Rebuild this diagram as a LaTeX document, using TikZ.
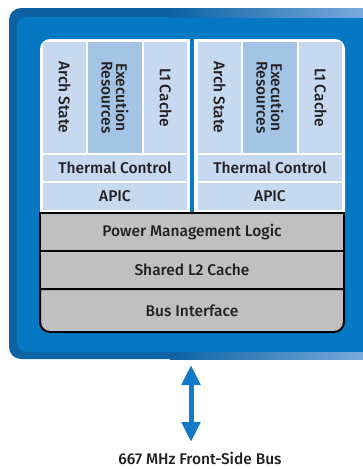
\documentclass[tikz,border=0pt]{standalone}
\usepackage{fontspec}
\setmainfont{Fira Sans}[UprightFont={* Medium}]
\usetikzlibrary{arrows.meta}

\definecolor{frameDark}{RGB}{12,98,163}
\definecolor{frameBlue}{RGB}{4,120,194}
\definecolor{frameLight}{RGB}{120,170,220}
\definecolor{cellBlue}{RGB}{198,217,240}
\definecolor{execBlue}{RGB}{164,196,230}
\definecolor{logicGrey}{RGB}{192,192,192}
\definecolor{inkText}{RGB}{35,31,32}
\definecolor{busBlue}{RGB}{18,122,200}

\begin{document}
\begin{tikzpicture}[x=1pt,y=-1pt,font=\fontsize{15.5}{14.5}\selectfont]
        \tikzstyle{cell}=[fill=cellBlue,text=inkText,inner sep=0pt,align=center]
        \tikzstyle{column}=[cell,rotate=-90,minimum width=111pt]
        \tikzstyle{exec column}=[column,fill=execBlue]
        \tikzstyle{row}=[cell,minimum height=26pt]
        \tikzstyle{logic}=[draw=black,line width=2pt,fill=logicGrey,text=inkText,
                           minimum width=304pt,minimum height=38pt,inner sep=0pt]

        \clip (0,0) rectangle (363,469);

        % Package frame
        \fill[frameDark,rounded corners=12pt] (9,8) rectangle (390,359);
        \fill[frameBlue,rounded corners=10pt] (17,17) rectangle (390,352);
        \shade[left color=frameDark,right color=frameLight] (170,8) rectangle (363,17);
        \shade[left color=frameDark,right color=frameLight] (170,352) rectangle (363,359);

        % Core area
        \fill[white,rounded corners=10pt] (40,39) rectangle (345,226);
        \fill[frameBlue] (190,39) rectangle (194,213);

        % Two cores
        \foreach \name / \x in {A/43,B/198} {
            \node[column,minimum height=43pt] (Arch-\name) at (\x+21.5,97.5) {Arch State};
            \node[exec column,minimum height=54pt] (Exec-\name) at (\x+72,97.5) {Execution\\Resources};
            \node[column,minimum height=43pt] (L1-\name) at (\x+122.5,97.5) {L1 Cache};
            \node[row,minimum width=144pt] (Therm-\name) at (\x+72,168) {Thermal Control};
            \node[row,minimum width=144pt,minimum height=27pt] (APIC-\name) at (\x+72,196.5) {APIC};
        }

        % Shared logic
        \node[logic] (PML) at (192,232) {Power Management Logic};
        \node[logic] (L2) at (192,270) {Shared L2 Cache};
        \filldraw[draw=black,line width=2pt,fill=logicGrey]
            (40,289) {[rounded corners=10pt] -- (40,332) -- (344,332)} -- (344,289) -- cycle;
        \node[text=inkText] (BIU) at (192,310.5) {Bus Interface};

        % Front-side bus
        \coordinate (FSB-top) at (191,365);
        \coordinate (FSB-bot) at (191,442);
        \node[text=inkText] (FSB) at (200,458) {667 MHz Front-Side Bus};
        \draw[busBlue,line width=5pt,{Triangle[width=18pt,length=20pt]}-{Triangle[width=18pt,length=20pt]}]
            (FSB-top) -- (FSB-bot);

\end{tikzpicture}
\end{document}
